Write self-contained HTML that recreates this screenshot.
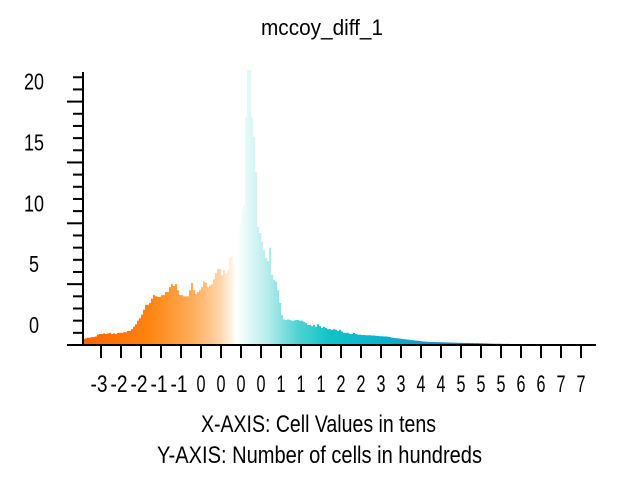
<!DOCTYPE html>
<html><head><meta charset="utf-8"><style>
html,body{margin:0;padding:0;background:#fff}
svg text{font-family:"Liberation Sans Narrow","Liberation Sans",sans-serif;fill:#000}
</style></head><body>
<svg id="chart" width="640" height="480" viewBox="0 0 640 480" xmlns="http://www.w3.org/2000/svg">
<defs>
<linearGradient id="grad" gradientUnits="userSpaceOnUse" x1="83" y1="0" x2="595" y2="0">
<stop offset="0" stop-color="#ff6200"/>
<stop offset="0.13" stop-color="#ff8410"/>
<stop offset="0.22" stop-color="#ffb060"/>
<stop offset="0.27" stop-color="#ffd8b0"/>
<stop offset="0.30" stop-color="#ffffff"/>
<stop offset="0.326" stop-color="#e0f7f7"/>
<stop offset="0.365" stop-color="#b0eaea"/>
<stop offset="0.42" stop-color="#50d2d2"/>
<stop offset="0.48" stop-color="#10c4c8"/>
<stop offset="0.6" stop-color="#08b0cc"/>
<stop offset="0.72" stop-color="#1a88cc"/>
<stop offset="0.86" stop-color="#1a52a8"/>
<stop offset="1" stop-color="#101a70"/>
</linearGradient>
</defs>
<text x="322" y="35" font-size="22" text-anchor="middle" textLength="122" lengthAdjust="spacingAndGlyphs">mccoy_diff_1</text>
<g id="bars"></g>
<g id="axes"></g>
<text x="318.5" y="432" font-size="24" text-anchor="middle" textLength="235" lengthAdjust="spacingAndGlyphs">X-AXIS: Cell Values in tens</text>
<text x="319.5" y="463" font-size="24" text-anchor="middle" textLength="325" lengthAdjust="spacingAndGlyphs">Y-AXIS: Number of cells in hundreds</text>
</svg>
<script>
const binValues = [
0.5,0.55,0.6,0.6,0.65,0.65,0.7,
0.85,0.9,0.9,0.95,0.9,0.95,1.0,0.9,0.95,0.9,1.0,1.0,
1.0,1.05,1.05,1.15,1.15,
1.3,1.5,1.7,2.0,2.2,
2.5,2.9,3.3,3.3,3.45,3.8,4.1,4.0,3.95,
3.95,4.1,4.1,4.35,4.35,4.75,
5.0,4.85,5.0,4.5,4.1,
4.1,4.0,4.0,4.0,4.5,
5.1,4.5,4.2,
4.35,4.5,4.75,5.2,5.1,
4.75,4.9,5.0,5.4,5.9,
6.25,6.25,5.75,6.15,5.9,
6.15,7.2,7.3,
6.6,7.4,8.9,
9.9,11.1,
11.5,18.7,
22.6,22.6,
18.7,17.1,
14.2,
9.7,9.2,8.5,
7.8,7.15,6.9,
8.0,5.75,
5.35,5.2,4.5,
3.45,2.45,
2.1,2.05,2.1,2.05,2.0,2.0,2.05,2.05,2.0,2.0,1.9,1.8,
1.65,1.65,1.55,1.65,1.5,1.7,1.55,1.4,1.5,1.4,
1.3,1.3,1.25,1.3,1.25,1.15,1.25,1.1,
1.0,1.0,1.0,0.9,0.9,1.0,0.9,
0.85,0.85,0.82,0.82,0.8,0.8,0.8,0.78,0.78,0.75,0.75,0.72,0.72,0.7,0.7,0.68,0.66,
0.6,0.58,0.56,0.55,0.52,0.5,0.48,0.46,0.44,0.42,0.4,0.38,0.36,0.35,0.33,
0.3,0.28,0.27,0.26,0.25,0.25,0.24,0.24,0.23,0.23,0.22,0.22,0.21,0.21,
0.2,0.2,0.19,0.19,0.18,0.18,0.18,0.17,0.17,0.17,0.16,0.16,0.15,0.15,0.15,0.14,0.14,0.13,0.13,0.12,
0.11,0.11,0.1,0.1,0.1,0.1,0.09,0.09,0.09,0.09,0.08,0.08,0.08,0.08,0.08,0.08,0.07,0.07,0.07,0.07,
0.07,0.07,0.06,0.06,0.06,0.06,0.06,0.06,0.06,0.06,0.05,0.05,0.05,0.05,0.05,0.05,0.05,0.05,0.05,0.05,
0.04,0.04,0.04,0.04,0.04,0.04,0.04,0.04,0.04,0.04,0.04,0.04,0.04
];
const xTickLabels = ["-3","-2","-2","-1","-1","0","0","0","0","1","1","1","2","2","3","3","4","4","5","5","5","6","6","7","7"];
const yTickLabels = ["0","5","10","15","20"];

const NS = "http://www.w3.org/2000/svg";
const plotLeft = 83, plotRight = 595, baseY = 345, unitPx = 12.17;
const binW = (plotRight - plotLeft) / binValues.length;
function xScale(i){ return plotLeft + i * binW; }
function yScale(v){ return baseY - v * unitPx; }

const barsG = document.getElementById('bars');
binValues.forEach((v, i) => {
  const r = document.createElementNS(NS, 'rect');
  
  
  r.setAttribute('x', xScale(i));
  r.setAttribute('y', yScale(v));
  r.setAttribute('width', binW + 0.15);
  r.setAttribute('height', baseY - yScale(v));
  r.setAttribute('fill', 'url(#grad)');
  barsG.appendChild(r);
});

const axesG = document.getElementById('axes');
function line(x1,y1,x2,y2,w,name){
  const l = document.createElementNS(NS,'line');
  
  
  l.setAttribute('x1',x1);l.setAttribute('y1',y1);l.setAttribute('x2',x2);l.setAttribute('y2',y2);
  l.setAttribute('stroke','#000');l.setAttribute('stroke-width',w);
  axesG.appendChild(l);
}
line(83, 72, 83, 346, 2, 'y-axis-line');
line(67, 345, 596, 345, 2, 'x-axis-line');
for (let k = 0; k <= 22; k++) {
  const y = baseY - k * unitPx;
  const major = k % 5 === 0;
  line(major ? 67 : 73, y, 83, y, 2, major ? 'y-major-tick' : 'y-minor-tick');
}
yTickLabels.forEach((t, j) => {
  const tx = document.createElementNS(NS,'text');
  
  
  tx.setAttribute('x', 34);
  tx.setAttribute('y', 333 - j * 5 * unitPx);
  tx.setAttribute('font-size', 23);
  tx.setAttribute('text-anchor', 'middle');
  tx.setAttribute('textLength', t.length * 10);
  tx.setAttribute('lengthAdjust', 'spacingAndGlyphs');
  tx.textContent = t;
  axesG.appendChild(tx);
});
xTickLabels.forEach((t, j) => {
  const x = 101 + j * 20;
  line(x, 345, x, 358, 2, 'x-tick');
  const tx = document.createElementNS(NS,'text');
  
  
  tx.setAttribute('x', t.startsWith('-') ? x - 2 : x);
  tx.setAttribute('y', 392);
  tx.setAttribute('font-size', 24);
  tx.setAttribute('text-anchor', 'middle');
  tx.setAttribute('textLength', t.startsWith('-') ? 17 : 9);
  tx.setAttribute('lengthAdjust', 'spacingAndGlyphs');
  tx.textContent = t;
  axesG.appendChild(tx);
});
</script>
</body></html>
